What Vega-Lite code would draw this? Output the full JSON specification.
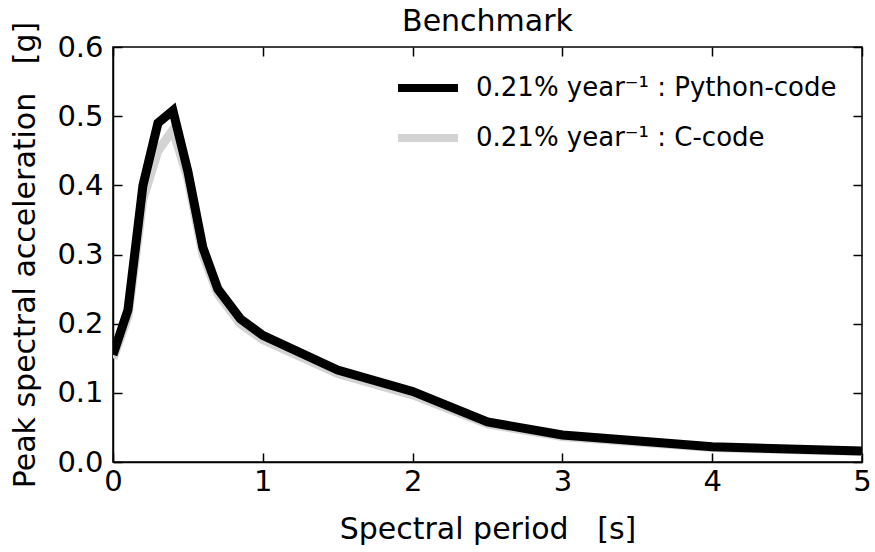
{
  "$schema": "https://vega.github.io/schema/vega-lite/v6.json",
  "width": 749,
  "height": 415,
  "autosize": {"type": "none"},
  "padding": {"left": 113, "top": 47, "right": 13, "bottom": 90},
  "background": "white",
  "title": {"text": "Benchmark", "fontSize": 30, "font": "DejaVu Sans", "fontWeight": "normal", "color": "black", "offset": 12, "dy": 28, "anchor": "middle"},
  "config": {
    "view": {"stroke": "black", "strokeWidth": 1.5},
    "axis": {
      "grid": false,
      "labelFont": "DejaVu Sans",
      "titleFont": "DejaVu Sans",
      "labelFontSize": 29,
      "titleFontSize": 30,
      "titleFontWeight": "normal",
      "labelColor": "black",
      "titleColor": "black",
      "domainColor": "black",
      "tickColor": "black",
      "tickSize": -9,
      "tickWidth": 1.5,
      "domainWidth": 1.5,
      "labelFlush": false
    },
    "legend": {
      "labelFont": "DejaVu Sans",
      "labelFontSize": 26,
      "labelColor": "black",
      "labelLimit": 0
    }
  },
  "datasets": {
    "python": [
      {"period": 0.0, "sa": 0.155, "series": "0.21% year⁻¹ : Python-code"},
      {"period": 0.1, "sa": 0.22, "series": "0.21% year⁻¹ : Python-code"},
      {"period": 0.2, "sa": 0.40, "series": "0.21% year⁻¹ : Python-code"},
      {"period": 0.3, "sa": 0.49, "series": "0.21% year⁻¹ : Python-code"},
      {"period": 0.4, "sa": 0.508, "series": "0.21% year⁻¹ : Python-code"},
      {"period": 0.5, "sa": 0.42, "series": "0.21% year⁻¹ : Python-code"},
      {"period": 0.6, "sa": 0.31, "series": "0.21% year⁻¹ : Python-code"},
      {"period": 0.7, "sa": 0.25, "series": "0.21% year⁻¹ : Python-code"},
      {"period": 0.85, "sa": 0.207, "series": "0.21% year⁻¹ : Python-code"},
      {"period": 1.0, "sa": 0.183, "series": "0.21% year⁻¹ : Python-code"},
      {"period": 1.5, "sa": 0.133, "series": "0.21% year⁻¹ : Python-code"},
      {"period": 2.0, "sa": 0.102, "series": "0.21% year⁻¹ : Python-code"},
      {"period": 2.5, "sa": 0.058, "series": "0.21% year⁻¹ : Python-code"},
      {"period": 3.0, "sa": 0.039, "series": "0.21% year⁻¹ : Python-code"},
      {"period": 4.0, "sa": 0.022, "series": "0.21% year⁻¹ : Python-code"},
      {"period": 5.0, "sa": 0.016, "series": "0.21% year⁻¹ : Python-code"}
    ],
    "ccode": [
      {"period": 0.0, "sa": 0.15, "series": "0.21% year⁻¹ : C-code"},
      {"period": 0.1, "sa": 0.21, "series": "0.21% year⁻¹ : C-code"},
      {"period": 0.2, "sa": 0.38, "series": "0.21% year⁻¹ : C-code"},
      {"period": 0.3, "sa": 0.45, "series": "0.21% year⁻¹ : C-code"},
      {"period": 0.4, "sa": 0.48, "series": "0.21% year⁻¹ : C-code"},
      {"period": 0.5, "sa": 0.41, "series": "0.21% year⁻¹ : C-code"},
      {"period": 0.6, "sa": 0.30, "series": "0.21% year⁻¹ : C-code"},
      {"period": 0.7, "sa": 0.243, "series": "0.21% year⁻¹ : C-code"},
      {"period": 0.85, "sa": 0.2, "series": "0.21% year⁻¹ : C-code"},
      {"period": 1.0, "sa": 0.177, "series": "0.21% year⁻¹ : C-code"},
      {"period": 1.5, "sa": 0.128, "series": "0.21% year⁻¹ : C-code"},
      {"period": 2.0, "sa": 0.097, "series": "0.21% year⁻¹ : C-code"},
      {"period": 2.5, "sa": 0.055, "series": "0.21% year⁻¹ : C-code"},
      {"period": 3.0, "sa": 0.037, "series": "0.21% year⁻¹ : C-code"},
      {"period": 4.0, "sa": 0.021, "series": "0.21% year⁻¹ : C-code"},
      {"period": 5.0, "sa": 0.015, "series": "0.21% year⁻¹ : C-code"}
    ]
  },
  "resolve": {"axis": {"x": "independent", "y": "independent"}},
  "layer": [
    {
      "data": {"name": "ccode"},
      "mark": {"type": "line", "strokeWidth": 9, "clip": true},
      "encoding": {
        "x": {"field": "period", "type": "quantitative", "scale": {"domain": [0, 5], "nice": false},
              "axis": {"values": [0, 1, 2, 3, 4, 5], "format": "d", "title": "Spectral period\u00a0\u00a0\u00a0[s]", "labelPadding": 14, "titlePadding": 18}},
        "y": {"field": "sa", "type": "quantitative", "scale": {"domain": [0, 0.6], "nice": false},
              "axis": {"values": [0, 0.1, 0.2, 0.3, 0.4, 0.5, 0.6], "format": ".1f", "title": "Peak spectral acceleration\u00a0\u00a0\u00a0[g]", "labelPadding": 19, "titlePadding": 16}},
        "color": {"field": "series", "type": "nominal",
                  "scale": {"domain": ["0.21% year⁻¹ : Python-code", "0.21% year⁻¹ : C-code"], "range": ["black", "#d3d3d3"]},
                  "legend": {"orient": "none", "legendX": 281, "legendY": 7, "title": null, "symbolType": "stroke", "symbolSize": 3600, "symbolStrokeWidth": 8, "labelOffset": 14, "rowPadding": -16, "padding": 0}}
      }
    },
    {
      "data": {"name": "python"},
      "mark": {"type": "line", "strokeWidth": 9, "clip": true},
      "encoding": {
        "x": {"field": "period", "type": "quantitative",
              "axis": {"orient": "top", "values": [0, 1, 2, 3, 4, 5], "labels": false, "title": null, "domain": false, "minExtent": 0, "maxExtent": 0}},
        "y": {"field": "sa", "type": "quantitative",
              "axis": {"orient": "right", "values": [0, 0.1, 0.2, 0.3, 0.4, 0.5, 0.6], "labels": false, "title": null, "domain": false, "minExtent": 0, "maxExtent": 0}},
        "color": {"field": "series", "type": "nominal"}
      }
    }
  ]
}
